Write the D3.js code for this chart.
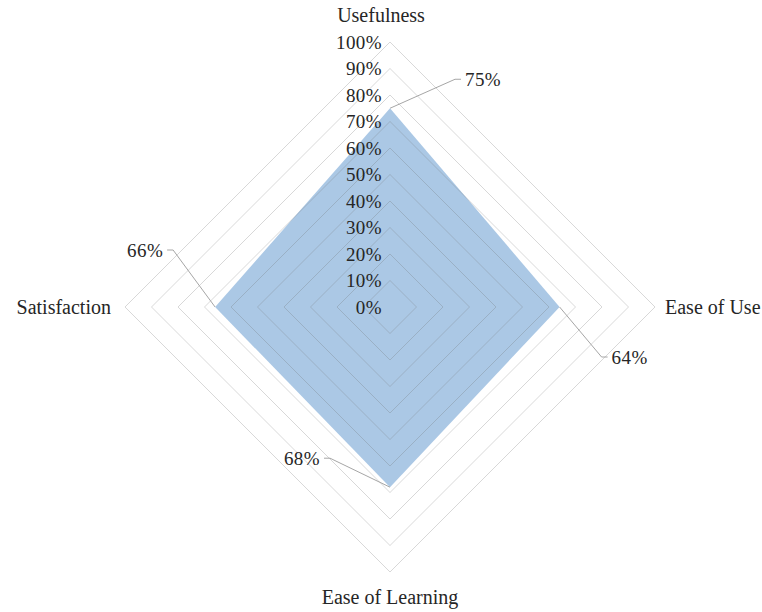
<!DOCTYPE html>
<html>
<head>
<meta charset="utf-8">
<script src="https://cdn.jsdelivr.net/npm/d3@7"></script>
<style>
  body { margin: 0; background: #fff; }
  text { font-family: "Liberation Serif", "DejaVu Serif", serif; fill: #262626; }
</style>
</head>
<body>
<div class="radar"></div>
<script>
const width = 762;
const height = 612;

const center = { x: 390, y: 307 };
const radius = 265;

// data
const categories = ["Usefulness", "Ease of Use", "Ease of Learning", "Satisfaction"];
const values = [75, 64, 68, 66];
const ticks = [0, 10, 20, 30, 40, 50, 60, 70, 80, 90, 100];

// where the data labels sit, relative to each point (leader elbow, then text)
const label_offsets = [
    { dx: 65, dy: -29, side: "right" },
    { dx: 42, dy: 50, side: "right" },
    { dx: -60, dy: -29, side: "left" },
    { dx: -42, dy: -57, side: "left" }
];

const svg = d3.select(".radar")
    .append("svg")
    .attr("width", width)
    .attr("height", height)
    .append("g")
    .attr("transform", `translate(${center.x},${center.y})`);

const r_scale = d3.scaleLinear()
    .domain([0, 100])
    .range([0, radius]);

const angle = d3.scalePoint()
    .domain(categories)
    .range([0, 2 * Math.PI * 3 / 4]);

function point(cat, v) {
    const a = angle(cat);
    return [Math.sin(a) * r_scale(v), -Math.cos(a) * r_scale(v)];
}

const line = d3.line().curve(d3.curveLinearClosed);

/* FILLED AREA */
svg.append("path")
    .attr("d", line(categories.map((c, i) => point(c, values[i]))))
    .attr("fill", "#abc8e5");

/* GRID */
svg.selectAll("path.grid")
    .data(ticks.slice(1))
    .enter()
    .append("path")
    .attr("class", "grid")
    .attr("d", t => line(categories.map(c => point(c, t))))
    .attr("fill", "none")
    .attr("stroke", "rgba(110,110,110,0.27)")
    .attr("stroke-width", 1);

// tick labels up the top spoke
svg.selectAll("text.tick")
    .data(ticks)
    .enter()
    .append("text")
    .attr("class", "tick")
    .attr("x", -8)
    .attr("y", t => -r_scale(t))
    .attr("dy", "0.35em")
    .attr("text-anchor", "end")
    .style("font-size", "19px")
    .style("letter-spacing", "0.4px")
    .text(t => t + "%");

/* CATEGORY LABELS */
const cat_pos = [
    { x: -9, y: -292, anchor: "middle" },
    { x: 275, y: 0, anchor: "start" },
    { x: 0, y: 290, anchor: "middle" },
    { x: -279, y: 0, anchor: "end" }
];

svg.selectAll("text.cat")
    .data(categories)
    .enter()
    .append("text")
    .attr("class", "cat")
    .attr("x", (d, i) => cat_pos[i].x)
    .attr("y", (d, i) => cat_pos[i].y)
    .attr("dy", "0.35em")
    .attr("text-anchor", (d, i) => cat_pos[i].anchor)
    .style("font-size", "20px")
    .text(d => d);

/* DATA LABELS WITH LEADER LINES */
categories.forEach(function(c, i) {
    const p = point(c, values[i]);
    const o = label_offsets[i];
    const elbow = [p[0] + o.dx, p[1] + o.dy];
    const dir = o.side === "right" ? 1 : -1;
    const end = [elbow[0] + dir * 6, elbow[1]];

    svg.append("polyline")
        .attr("points", [p, elbow, end].map(q => q.join(",")).join(" "))
        .attr("fill", "none")
        .attr("stroke", "#a6a6a6")
        .attr("stroke-width", 1);

    svg.append("text")
        .attr("x", end[0] + dir * 4)
        .attr("y", end[1])
        .attr("dy", "0.35em")
        .attr("text-anchor", o.side === "right" ? "start" : "end")
        .style("font-size", "19px")
        .style("letter-spacing", "0.4px")
        .text(values[i] + "%");
});
</script>
</body>
</html>
